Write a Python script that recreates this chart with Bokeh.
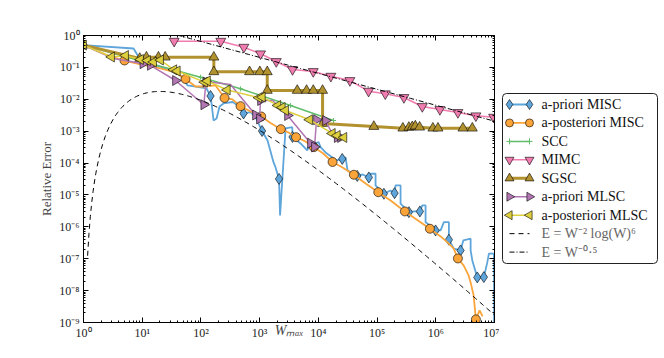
import numpy as np
from bokeh.plotting import figure
from bokeh.layouts import row
from bokeh.models import Range1d, LogAxis, FixedTicker, CustomJSTickFormatter
from bokeh.core.properties import value
from bokeh.embed import file_html
from bokeh.resources import INLINE

# ---------------- data ----------------
apriori_misc_W = [1, 7.11, 8.82, 13.8, 24.9, 44.9, 59.1, 87.5, 124.5, 145.8,
                  154.5, 164, 184.5, 207.5, 242.7, 345, 404, 532, 700, 851,
                  1099, 1364, 1726, 1866, 2140, 2228, 2762, 3592, 3634, 4977,
                  6470, 6810, 10070, 10900, 13270, 20420, 25530, 29040, 31410, 46030,
                  56620, 72440, 77450, 94200, 94200, 130600, 169800, 198700, 206500, 251200,
                  251200, 348300, 418800, 535800, 588800, 670000, 670000, 871000, 993000, 1.208e6,
                  1.374e6, 1.671e6, 1.671e6, 2.033e6, 2.642e6, 2.94e6, 3.92e6, 3.92e6, 4.19e6, 5.09e6,
                  6.59e6, 7.54e6, 8.03e6, 9.77e6, 9.84e6]
apriori_misc_E = [0.5, 0.391, 0.204, 0.1325, 0.0924, 0.0557, 0.0271, 0.0243, 0.0218, 0.01268,
                  0.00553, 0.00216, 0.0025, 0.00594, 0.00738, 0.00822, 0.00687, 0.00359, 0.00394, 0.00275,
                  0.001014, 0.000511, 1.045e-4, 7.28e-5, 3.18e-5, 2.28e-6, 0.001216, 0.001334, 0.000658, 0.000411,
                  0.000248, 0.000331, 0.000458, 0.000315, 0.000215, 1.208e-4, 1.345e-4, 1.5e-4, 5.86e-5, 3.94e-5,
                  4.39e-5, 3.54e-5, 4.62e-5, 4.62e-5, 1.99e-5, 1.09e-5, 1.38e-5, 1.14e-5, 1.99e-5, 1.99e-5,
                  5.30e-6, 2.89e-6, 3.04e-6, 3.04e-6, 4.69e-6, 4.69e-6, 1.40e-6, 9.79e-7, 7.71e-7, 7.71e-7,
                  1.40e-6, 1.40e-6, 3.94e-7, 2.06e-7, 1.82e-7, 3.75e-7, 4.24e-7, 1.82e-7, 8.85e-8, 2.59e-8,
                  2.65e-8, 7.66e-8, 1.44e-7, 1.44e-7, 5e-10]
apriori_misc_marks = [9, 17, 20, 24, 28, 36, 39, 41, 45, 47, 51, 53, 58, 62, 64, 69, 70]

apost_misc_W = [1, 2.88, 4.99, 9.35, 20.5, 36.9, 54.7, 80.9, 119.7, 177.4,
                252.5, 345, 473, 700, 1065, 1534, 2296, 3105, 4170, 6050,
                8380, 11800, 17460, 25830, 40270, 63680, 104800, 169800, 297700, 471000,
                794000, 1.208e6, 1.652e6, 2.01e6, 2.38e6, 2.98e6, 3.62e6, 3.92e6, 4.41e6, 4.82e6,
                5.57e6, 6.27e6]
apost_misc_E = [0.5, 0.2196, 0.1644, 0.1233, 0.0924, 0.0692, 0.0433, 0.0252, 0.0252, 0.0271,
                0.01099, 0.00986, 0.00608, 0.00415, 0.00289, 0.00181, 0.001156, 0.00091, 0.000648, 0.000475,
                0.000315, 0.000207, 1.08e-4, 7.28e-5, 4.30e-5, 2.29e-5, 1.22e-5, 6.73e-6, 3.04e-6, 1.71e-6,
                8.71e-7, 5.0e-7, 3.02e-7, 2.10e-7, 1.02e-7, 6.17e-8, 2.99e-8, 1.81e-8, 7.08e-9, 1.25e-9,
                2.39e-9, 1.55e-9]
apost_misc_marks = [2, 6, 10, 12, 14, 16, 18, 20, 22, 24, 26, 28, 30, 34, 39]

scc_W = [1, 3.24, 13.8, 98.5, 473, 3360, 18150]
scc_E = [0.5, 0.273, 0.1325, 0.0493, 0.0213, 0.0064, 0.00216]

mimc_W = [35, 218, 538, 1036, 1919, 3634, 8180, 16330, 34420, 71650,
          138000, 286400, 589000, 1.175e6, 2.38e6, 4.82e6, 9.66e6]
mimc_E = [0.663, 0.663, 0.43, 0.267, 0.153, 0.0859, 0.0743, 0.053, 0.0388, 0.018,
          0.0149, 0.0114, 0.00594, 0.00479, 0.00386, 0.00304, 0.00275]

sgsc_W = [1, 9.1, 11.8, 18.9, 24.6, 166, 166, 673, 1008, 1347,
          1347, 4370, 6295, 8190, 11800, 11800, 88100, 275000, 348000, 398000,
          448000, 530000, 893000, 1.09e6, 2.9e6, 4.19e6]
sgsc_E = [0.5, 0.19, 0.209, 0.209, 0.209, 0.209, 0.0728, 0.0728, 0.0728, 0.0728,
          0.0189, 0.0189, 0.0189, 0.0189, 0.0189, 0.00174, 0.0014, 0.00124, 0.00131, 0.00137,
          0.00144, 0.00133, 0.00124, 0.00124, 0.00124, 0.00124]

apriori_mlsc_W = [1, 3.24, 6.32, 10.3, 13.8, 36.9, 112, 122, 140, 319,
                  852, 996, 1036, 1660, 2988, 7360, 8610, 9310, 13270, 16140,
                  20990, 23900]
apriori_mlsc_E = [0.5, 0.19, 0.153, 0.1306, 0.1164, 0.0388, 0.00673, 0.0348, 0.0348, 0.0291,
                  0.00322, 0.00241, 0.00917, 0.00917, 0.0031, 0.000421, 0.00032, 0.00228, 0.00216, 0.00105,
                  0.000635, 0.000635]
apriori_mlsc_marks = [3, 4, 5, 6, 7, 10, 11, 12, 14, 15, 16, 17, 18, 20, 21]

apost_mlsc_W = [1, 3.0, 5.2, 9.35, 12.3, 15.6, 20.5, 34.5, 39.5, 115,
                129, 281, 969, 1108, 2041, 2427, 2762, 7080, 17260, 20990,
                27180]
apost_mlsc_E = [0.5, 0.212, 0.236, 0.177, 0.164, 0.1476, 0.1706, 0.0841, 0.0771, 0.0344,
                0.0375, 0.0196, 0.01115, 0.01164, 0.0064, 0.00553, 0.00446, 0.00228, 0.000847, 0.000733,
                0.000635]

# reference rates (as labelled in the legend), with their fitted constants
rate1_const, rate1_start = 0.00974, 1.175      # E = W^-2 log(W)^6
rate2_const, rate2_start = 6.5, 40.0           # E = W^-0.5

x_ticks = [10.0 ** k for k in range(0, 8)]
y_ticks = [10.0 ** k for k in range(-9, 1)]

labels = ["a-priori MISC", "a-posteriori MISC", "SCC", "MIMC", "SGSC",
          "a-priori MLSC", "a-posteriori MLSC",
          "E = W\u207b\u00b2 log(W)\u2076", "E = W\u207b\u2070\u00b7\u2075"]

# ---------------- styling ----------------
FONT = "Liberation Serif"
C_BLUE, C_ORANGE, C_GREEN, C_PINK = "#5DA5DA", "#FAA43A", "#60BD68", "#F17CB0"
C_BROWN, C_PURPLE, C_YELLOW = "#B2912F", "#B276B2", "#DECF3F"

# (color, line width, dash, marker, angle, marker size)
styles = [(C_BLUE, 1.8, "solid", "diamond", 0.0, 11),
          (C_ORANGE, 1.8, "solid", "circle", 0.0, 9),
          (C_GREEN, 1.5, "solid", "cross", 0.0, 5),
          (C_PINK, 1.5, "solid", "inverted_triangle", 0.0, 10),
          (C_BROWN, 3.0, "solid", "triangle", 0.0, 10),
          (C_PURPLE, 1.5, "solid", "triangle", -np.pi / 2, 10),
          (C_YELLOW, 1.5, "solid", "triangle", np.pi / 2, 10),
          ("black", 1.0, "5 4", None, 0.0, 0),
          ("black", 1.0, "5 2 1 2", None, 0.0, 0)]

FRAME_L, FRAME_W, FRAME_T, FRAME_H = 83, 411, 35, 287
FRAME_B = 358 - FRAME_T - FRAME_H
P_RIGHT = 5
P_WIDTH = FRAME_L + FRAME_W + P_RIGHT

p = figure(frame_width=FRAME_W, frame_height=FRAME_H, x_axis_type="log", y_axis_type="log",
           x_range=Range1d(1, 1e7), y_range=Range1d(1e-9, 1), title=None,
           output_backend="svg", toolbar_location=None,
           min_border_left=FRAME_L, min_border_right=P_RIGHT, min_border_top=FRAME_T,
           min_border_bottom=FRAME_B)
p.background_fill_color = "white"
p.border_fill_color = "white"
p.outline_line_color = "black"
p.outline_line_width = 1
p.xgrid.visible = False
p.ygrid.visible = False

x_minor = [m * 10.0 ** k for k in range(0, 7) for m in range(2, 10)]
y_minor = [m * 10.0 ** k for k in range(-9, 0) for m in range(2, 10)]

sup_fmt = CustomJSTickFormatter(code="""
const m = {'-':'\u207b','0':'\u2070','1':'\u00b9','2':'\u00b2','3':'\u00b3','4':'\u2074',
           '5':'\u2075','6':'\u2076','7':'\u2077','8':'\u2078','9':'\u2079'};
const e = Math.round(Math.log10(tick));
return '10' + String(e).split('').map(c => m[c]).join('');
""")
blank_fmt = CustomJSTickFormatter(code="return '';")

def style_axis(ax, ticks, minor, fmt):
    ax.ticker = FixedTicker(ticks=ticks, minor_ticks=minor)
    ax.formatter = fmt
    ax.major_tick_in = 5
    ax.major_tick_out = 0
    ax.minor_tick_in = 2
    ax.minor_tick_out = 0
    ax.axis_line_color = "black"
    ax.major_tick_line_color = "black"
    ax.minor_tick_line_color = "black"
    ax.major_label_text_font = FONT
    ax.major_label_text_font_size = "12px"
    ax.major_label_text_color = "#222222"

xax = p.below[0]
yax = p.left[0]
style_axis(xax, x_ticks, x_minor, sup_fmt)
style_axis(yax, y_ticks, y_minor, sup_fmt)
xax.major_label_standoff = 3
yax.major_label_standoff = 4

top_ax = LogAxis()
style_axis(top_ax, x_ticks, x_minor, blank_fmt)
top_ax.major_label_standoff = 0
right_ax = LogAxis()
style_axis(right_ax, y_ticks, y_minor, blank_fmt)
right_ax.major_label_standoff = 0
p.add_layout(top_ax, "above")
p.add_layout(right_ax, "right")

yax.axis_label = "Relative Error"
yax.axis_label_text_font = FONT
yax.axis_label_text_font_size = "13px"
yax.axis_label_text_font_style = "normal"
yax.axis_label_standoff = 2

xax.axis_label = "W\u2098\u2090\u2093"
xax.axis_label_text_font = FONT
xax.axis_label_text_font_size = "14px"
xax.axis_label_text_font_style = "italic"
xax.axis_label_standoff = -20

# ---------------- series ----------------
def sub(a, idx):
    return [a[i] for i in idx]

series = [(apriori_misc_W, apriori_misc_E, apriori_misc_marks),
          (apost_misc_W, apost_misc_E, apost_misc_marks),
          (scc_W, scc_E, list(range(len(scc_W)))),
          (mimc_W, mimc_E, list(range(len(mimc_W)))),
          (sgsc_W, sgsc_E, list(range(len(sgsc_W)))),
          (apriori_mlsc_W, apriori_mlsc_E, apriori_mlsc_marks),
          (apost_mlsc_W, apost_mlsc_E, list(range(len(apost_mlsc_W))))]

for (W, E, marks), (col, lw, dash, mk, ang, sz) in zip(series, styles[:7]):
    p.line(W, E, color=col, line_width=lw)
    if mk == "cross":
        p.scatter(sub(W, marks), sub(E, marks), marker=mk, size=sz, line_color=col, line_width=1)
    else:
        p.scatter(sub(W, marks), sub(E, marks), marker=mk, angle=ang, size=sz,
                  fill_color=col, line_color="black", line_width=0.6)

w1 = np.logspace(np.log10(rate1_start), 7, 300)
e1 = rate1_const * np.log(w1) ** 6 / w1 ** 2
p.line(w1, e1, color="black", line_width=1, line_dash=styles[7][2])
w2 = np.logspace(np.log10(rate2_start), 7, 50)
e2 = rate2_const * w2 ** -0.5
p.line(w2, e2, color="black", line_width=1, line_dash=styles[8][2])

# ---------------- legend panel (separate figure, page-pixel coordinates) ----------------
L_WIDTH = 664 - P_WIDTH
lg = figure(frame_width=L_WIDTH, frame_height=FRAME_H,
            x_range=Range1d(P_WIDTH, 664), y_range=Range1d(FRAME_T + FRAME_H, FRAME_T),
            title=None, output_backend="svg", toolbar_location=None,
            min_border_left=0, min_border_right=0, min_border_top=FRAME_T,
            min_border_bottom=FRAME_B, x_axis_location=None, y_axis_location=None)
lg.outline_line_color = None
lg.grid.visible = False
lg.background_fill_color = "white"
lg.border_fill_color = "white"

BOX_L, BOX_R, BOX_T, BOX_B = 502, 657, 93, 263
ROW0, PITCH = 104, 18.45
lg.quad(left=[BOX_L], right=[BOX_R], top=[BOX_T], bottom=[BOX_B],
        fill_color="white", line_color="#222222", line_width=1, border_radius=4)
for i, (lab, (col, lw, dash, mk, ang, sz)) in enumerate(zip(labels, styles)):
    yc = ROW0 + i * PITCH
    lg.line([509, 529], [yc, yc], color=col, line_width=lw, line_dash=dash)
    if mk == "cross":
        lg.scatter([509, 529], [yc, yc], marker=mk, size=6, line_color=col, line_width=1)
    elif mk is not None:
        lg.scatter([509, 529], [yc, yc], marker=mk, angle=ang, size=sz - 1,
                   fill_color=col, line_color="black", line_width=0.6)
    lg.text([541], [yc], text=[lab], text_font=value(FONT), text_font_size="14px",
            text_baseline="middle", text_align="left",
            text_color="#111111" if mk is not None else "#666666")

open("out.html", "w").write(file_html(row(p, lg), INLINE))
